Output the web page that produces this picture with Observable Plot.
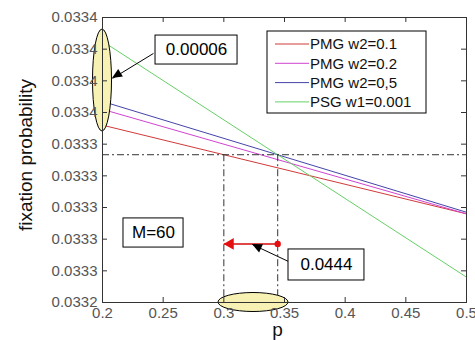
<!DOCTYPE html>
<html>
<head>
<meta charset="utf-8">
<script src="https://cdn.jsdelivr.net/npm/d3@7"></script>
<script src="https://cdn.jsdelivr.net/npm/@observablehq/plot@0.6"></script>
<style>
  html, body { margin: 0; padding: 0; background: #fff; }
  #chart svg { display: block; }
</style>
</head>
<body>
<div id="chart"></div>
<script>
// ---- data ----
const pValues = [0.2, 0.5];
const seriesNames = ["PMG w2=0.1", "PMG w2=0.2", "PMG w2=0,5", "PSG w1=0.001"];
const pmgW01 = [0.033352, 0.033296];
const pmgW02 = [0.033362, 0.033296];
const pmgW05 = [0.033367, 0.033297];
const psgW1  = [0.033405, 0.033256];
const seriesColors = ["#d03a3a", "#d044d0", "#4444a8", "#66d066"];
const xTicks = [0.2, 0.25, 0.3, 0.35, 0.4, 0.45, 0.5];
const yTicks = [0.03324, 0.03326, 0.03328, 0.03330, 0.03332, 0.03334, 0.03336, 0.03338, 0.03340, 0.03342];
const neutralLevel = 1 / 30;
const crossingP = [0.3, 0.3444];
const shiftLevel = 0.033277;
const boxLabels = ["0.00006", "M=60", "0.0444"];
const boxP1 = [0.2437, 0.2173, 0.3533];
const boxP2 = [0.3113, 0.2668, 0.4159];
const boxV1 = [0.0333903, 0.0332747, 0.0332539];
const boxV2 = [0.0334086, 0.0332931, 0.0332735];
// annotation arrows: start (p, v) -> tip (p, v)
const arrowStartP = [0.2420, 0.3533];
const arrowStartV = [0.0333973, 0.0332659];
const arrowTipP = [0.20824, 0.3236];
const arrowTipV = [0.0333815, 0.0332766];
// highlight ellipses (data extents)
const ellipseLeft = {p: 0.2, v1: 0.033348, v2: 0.0334124};
const ellipseBottom = {p1: 0.2956, p2: 0.3533, v: 0.03324};

const seriesValues = [pmgW01, pmgW02, pmgW05, psgW1];
const rows = seriesNames.flatMap((s, i) => pValues.map((pp, j) => ({p: pp, v: seriesValues[i][j], series: s})));
const boxes = boxLabels.map((t, i) => ({t, x1: boxP1[i], x2: boxP2[i], y1: boxV1[i], y2: boxV2[i]}));
const arrows = arrowStartP.map((d, i) => ({x1: d, y1: arrowStartV[i], x2: arrowTipP[i], y2: arrowTipV[i]}));

const ink = "#333";
const dashDot = "7,3,2,3";

function ellipses(index, scales, values, dimensions) {
  const g = d3.create("svg:g");
  const fill = "#f7f2b4";
  const x = scales.x, y = scales.y;
  g.append("ellipse")
    .attr("cx", x(ellipseLeft.p))
    .attr("cy", (y(ellipseLeft.v1) + y(ellipseLeft.v2)) / 2)
    .attr("rx", 9.5)
    .attr("ry", Math.abs(y(ellipseLeft.v1) - y(ellipseLeft.v2)) / 2)
    .attr("fill", fill).attr("stroke", "#000").attr("stroke-width", 1);
  g.append("ellipse")
    .attr("cx", (x(ellipseBottom.p1) + x(ellipseBottom.p2)) / 2)
    .attr("cy", y(ellipseBottom.v))
    .attr("rx", Math.abs(x(ellipseBottom.p2) - x(ellipseBottom.p1)) / 2)
    .attr("ry", 9.5)
    .attr("fill", fill).attr("stroke", "#000").attr("stroke-width", 1);
  return g.node();
}

function arrowHeads(index, scales) {
  const g = d3.create("svg:g");
  const len = 10, half = 4.5;
  for (const a of arrows) {
    const sx = scales.x(a.x1), sy = scales.y(a.y1);
    const tx = scales.x(a.x2), ty = scales.y(a.y2);
    const dx = tx - sx, dy = ty - sy, L = Math.hypot(dx, dy);
    const ux = dx / L, uy = dy / L;
    const bx = tx - ux * len, by = ty - uy * len;
    g.append("path")
      .attr("d", `M${tx},${ty}L${bx - uy * half},${by + ux * half}L${bx + uy * half},${by - ux * half}Z`)
      .attr("fill", "#000");
  }
  return g.node();
}

function legend(index, scales, values, dimensions) {
  const g = d3.create("svg:g")
    .attr("font-family", "'Liberation Sans', Arial, sans-serif")
    .attr("text-anchor", "start");
  const x0 = dimensions.marginLeft + 165, y0 = dimensions.marginTop + 14;
  g.append("rect").attr("x", x0).attr("y", y0).attr("width", 159).attr("height", 82)
    .attr("fill", "#fff").attr("stroke", "#000").attr("stroke-width", 1);
  seriesNames.forEach((s, i) => {
    const yy = y0 + 13 + i * 19.3;
    g.append("line").attr("x1", x0 + 8).attr("x2", x0 + 42).attr("y1", yy).attr("y2", yy)
      .attr("stroke", seriesColors[i]).attr("stroke-width", 1);
    g.append("text").attr("x", x0 + 43).attr("y", yy).attr("dy", "0.35em")
      .attr("text-anchor", "start")
      .attr("font-size", 15).attr("fill", "#111").text(s);
  });
  return g.node();
}

const chart = Plot.plot({
  width: 475,
  height: 340,
  marginLeft: 102,
  marginRight: 9,
  marginTop: 17,
  marginBottom: 38,
  style: {fontFamily: "'Liberation Sans', Arial, sans-serif", background: "#fff", overflow: "visible"},
  x: {domain: [0.2, 0.5]},
  y: {domain: [0.03324, 0.03342]},
  color: {domain: seriesNames, range: seriesColors},
  marks: [
    Plot.line(rows, {x: "p", y: "v", z: "series", stroke: "series", strokeWidth: 1}),
    Plot.ruleY([neutralLevel], {stroke: ink, strokeWidth: 1, strokeDasharray: dashDot}),
    Plot.ruleX(crossingP, {y1: neutralLevel, y2: 0.03324, stroke: ink, strokeWidth: 1, strokeDasharray: dashDot}),
    ellipses,
    // red shift arrow
    Plot.link([{a: crossingP[1], b: crossingP[0]}], {x1: "a", x2: "b", y1: shiftLevel, y2: shiftLevel, stroke: "#e04848", strokeWidth: 2}),
    Plot.dot([crossingP[1]], {x: d => d, y: shiftLevel, r: 3.2, fill: "#e41010", stroke: "none"}),
    Plot.dot([crossingP[0]], {x: d => d, y: shiftLevel, symbol: "triangle", rotate: -90, r: 4.4, dx: 6.5, fill: "#e41010", stroke: "none"}),
    // annotation arrows
    Plot.link(arrows, {x1: "x1", y1: "y1", x2: "x2", y2: "y2", stroke: "#000", strokeWidth: 1}),
    arrowHeads,
    // annotation boxes
    Plot.rect(boxes, {x1: "x1", x2: "x2", y1: "y1", y2: "y2", fill: "#fff", stroke: "#000", strokeWidth: 1}),
    Plot.text(boxes, {x: d => (d.x1 + d.x2) / 2, y: d => (d.y1 + d.y2) / 2, text: "t", fontSize: 17, fill: "#000"}),
    legend,
    // frame and inward ticks
    Plot.frame({stroke: ink, strokeWidth: 1}),
    Plot.tickY(yTicks, {y: d => d, insetRight: 359, stroke: ink}),
    Plot.tickY(yTicks, {y: d => d, insetLeft: 359, stroke: ink}),
    Plot.tickX(xTicks, {x: d => d, insetTop: 280, stroke: ink}),
    Plot.tickX(xTicks, {x: d => d, insetBottom: 280, stroke: ink}),
    Plot.axisY(yTicks, {tickSize: 0, tickPadding: 5, fontSize: 15, fill: "#555", tickFormat: d3.format(".4f"), label: null}),
    Plot.axisX(xTicks, {tickSize: 0, tickPadding: 5, fontSize: 15, fill: "#555", tickFormat: d => String(d), label: null}),
    Plot.text(["fixation probability"], {frameAnchor: "left", textAnchor: "middle", lineAnchor: "middle", text: d => d, rotate: -90, dx: -77, dy: -5, fontSize: 19, fill: "#111"}),
    Plot.text(["p"], {frameAnchor: "bottom", textAnchor: "middle", lineAnchor: "middle", text: d => d, dx: -7, dy: 27, fontSize: 19, fill: "#111"})
  ]
});
document.getElementById("chart").appendChild(chart);
</script>
</body>
</html>
